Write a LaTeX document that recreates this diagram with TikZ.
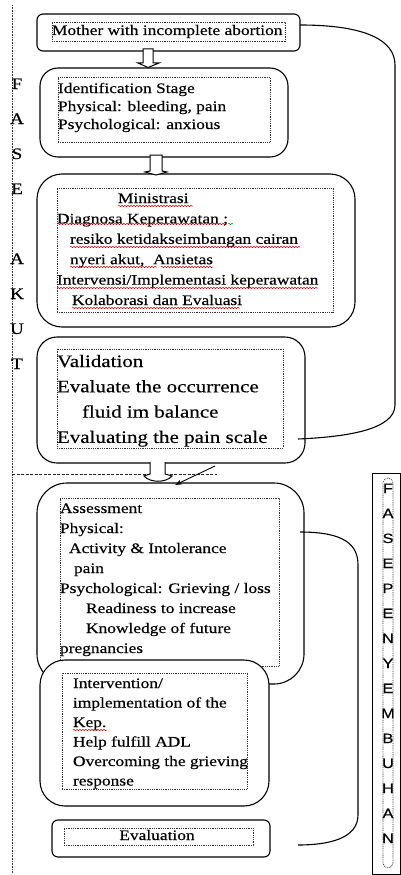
\documentclass[tikz,border=0pt]{standalone}
\usepackage{fontspec}
\setmainfont{Liberation Serif}[FakeStretch=1.2,FakeBold=0.35]
\newfontfamily\rsans{Liberation Sans}[FakeStretch=1.2,FakeBold=0.35]
\usetikzlibrary{arrows.meta,decorations.pathmorphing}
\tikzset{
 outerbox/.style={draw=black, line width=1.1pt, fill=white, inner sep=0pt, outer sep=0pt, anchor=north west},
 innerbox/.style={draw=black!80, line width=0.7pt, dash pattern=on 0.9pt off 0.9pt, inner sep=0pt, outer sep=0pt, anchor=north west},
 txt/.style={inner sep=0pt, outer sep=0pt, anchor=north west, align=left, text=black},
 hollow/.style={draw=black, line width=1pt, fill=white},
 conn/.style={draw=black, line width=1.1pt},
 spell/.style={draw=red!85!black, line width=0.5pt, decorate, decoration={snake, amplitude=0.7pt, segment length=3pt}},
 sidel/.style={inner sep=0pt, anchor=base, font=\fontsize{16}{18}\selectfont},
 sider/.style={inner sep=0pt, anchor=base, font=\rsans\fontsize{13.5}{16}\selectfont},
}
\begin{document}
\begin{tikzpicture}[x=1pt,y=-1pt]
\useasboundingbox (0,0) rectangle (401,875);
% left dotted line
\draw[dash pattern=on 0.8pt off 0.8pt, line width=0.8pt, black!80] (12,5) -- (12,873);
% curves coordinates
\coordinate (e4) at (298,439);
\coordinate (s5) at (300,532);
\coordinate (e7) at (298,845);
% box 1
\node[outerbox, rounded corners=6pt, minimum width=263pt, minimum height=37pt] (b1) at (37,14) {};
\node[innerbox, minimum width=233pt, minimum height=19pt] (i1) at (52,22) {};
\node[txt, font=\fontsize{14.5}{18}\selectfont] (t1) at (52,35-11) {\rule{0pt}{11pt}Mother with incomplete abortion};
% box 2
\node[outerbox, rounded corners=18pt, minimum width=248pt, minimum height=89pt] (b2) at (40,68) {};
\node[innerbox, minimum width=212pt, minimum height=65pt] (i2) at (58,77) {};
\node[txt, font=\fontsize{14.5}{18}\selectfont] (t2) at (58,93-11) {\rule{0pt}{11pt}Identification Stage\\Physical: bleeding, pain\\Psychological: anxious};
% box 3
\node[outerbox, rounded corners=25pt, minimum width=318pt, minimum height=153pt] (b3) at (37,174) {};
\node[innerbox, minimum width=276pt, minimum height=124pt] (i3) at (57,188) {};
\node[txt, font=\fontsize{14.5}{20.4}\selectfont] (t3) at (57,203-11) {\rule{0pt}{11pt}\hspace*{61pt}Ministrasi\\Diagnosa Keperawatan ;\\\hspace*{13pt}resiko ketidakseimbangan cairan\\\hspace*{13pt}nyeri akut,\ \ Ansietas\\Intervensi/Implementasi keperawatan\\\hspace*{15pt}Kolaborasi dan Evaluasi};
% box 4
\node[outerbox, rounded corners=20pt, minimum width=268pt, minimum height=126pt] (b4) at (37,337) {};
\node[innerbox, minimum width=226pt, minimum height=99pt] (i4) at (57,349) {};
\node[txt, font=\fontsize{17.5}{25.3}\selectfont] (t4) at (57,367-13.5) {\rule{0pt}{13.5pt}Validation\\Evaluate the occurrence\\\hspace*{25pt}fluid im balance\\Evaluating the pain scale};
% dashed separator
\draw[dash pattern=on 3pt off 1.5pt, line width=0.8pt, black!85] (12,474) -- (217,474);
% box 5
\node[outerbox, rounded corners=30pt, minimum width=267pt, minimum height=201pt] (b5) at (37,483) {};
\node[innerbox, minimum width=219pt, minimum height=168pt] (i5) at (60,498) {};
\node[txt, font=\fontsize{14.5}{20}\selectfont] (t5) at (60,513-11) {\rule{0pt}{11pt}Assessment\\Physical:\\\hspace*{9pt}Activity \& Intolerance\\\hspace*{14pt}pain\\Psychological: Grieving / loss\\\hspace*{26pt}Readiness to increase\\\hspace*{26pt}Knowledge of future\\pregnancies};
% box 6
\node[outerbox, rounded corners=25pt, minimum width=229pt, minimum height=146pt] (b6) at (40,660) {};
\node[innerbox, minimum width=185pt, minimum height=116pt] (i6) at (62,673) {};
\node[txt, font=\fontsize{14.5}{19.5}\selectfont] (t6) at (73,688-11) {\rule{0pt}{11pt}Intervention/\\implementation of the\\Kep.\\Help fulfill ADL\\Overcoming the grieving\\response};
% box 7
\node[outerbox, rounded corners=6pt, minimum width=218pt, minimum height=37pt] (b7) at (52,820) {};
\node[innerbox, minimum width=189pt, minimum height=17pt] (i7) at (64,828) {};
\node[inner sep=0pt, anchor=base, font=\fontsize{14.5}{18}\selectfont, text=black] (t7) at (157,840) {Evaluation};
% right side box
\node[draw=black, line width=1pt, inner sep=0pt, anchor=north west, minimum width=27.5pt, minimum height=401pt] (br) at (372,473) {};
\node[innerbox, rounded corners=5pt, minimum width=10pt, minimum height=390pt] (ir) at (383,478) {};
\foreach \ch [count=\i from 0] in {F,A,S,E,P,E,N,Y,E,M,B,U,H,A,N}
  \node[sider] (r\i) at (388,493+25*\i) {\ch};
% left letters
\node[sidel] (l1) at (17,89) {F};
\node[sidel] (l2) at (17,124) {A};
\node[sidel] (l3) at (17,159) {S};
\node[sidel] (l4) at (17,194) {E};
\node[sidel] (l5) at (17,264) {A};
\node[sidel] (l6) at (17,299) {K};
\node[sidel] (l7) at (17,334) {U};
\node[sidel] (l8) at (17,369) {T};
% hollow arrows
\draw[hollow] (143,49) -- (153,49) -- (153,63) -- (159,63) -- (148,67.5) -- (138,63) -- (143,63) -- cycle;
\draw[hollow] (150,155) -- (162,155) -- (162,171) -- (167,172) -- (156,175) -- (145,172) -- (150,171) -- cycle;
\draw[hollow] (150,462) -- (150,474) -- (144,476) .. controls (150,483) and (166,483) .. (172,476) -- (165,474) -- (165,462);
% diagonal arrow
\coordinate (d1) at (215,466);
\coordinate (d2) at (175,485);
\draw[-{Stealth[length=7pt,width=5pt]}, line width=0.9pt, black] (d1) -- (d2);
% connectors
\draw[conn] ([yshift=7.5pt]b1.east) .. controls (365,25) and (395,40) .. (395,65) -- (395,405) .. controls (395,430) and (345,437) .. (e4);
\draw[conn] (s5) .. controls (345,532) and (358,545) .. (358,565) -- (358,815) .. controls (358,838) and (330,845) .. (e7);
% spell-check underlines
\draw[spell] (118,206) -- (193,206);
\draw[spell] (57,224) -- (226,224);
\draw[spell, draw=green!60!black] (228,224) -- (233,224);
\draw[spell] (70,247) -- (300,247);
\draw[spell] (70,267) -- (157,267);
\draw[spell] (161,267) -- (213,267);
\draw[spell] (57,288) -- (318,288);
\draw[spell] (72,308) -- (240,308);
\draw[spell] (73,730) -- (107,730);
\end{tikzpicture}
\end{document}
